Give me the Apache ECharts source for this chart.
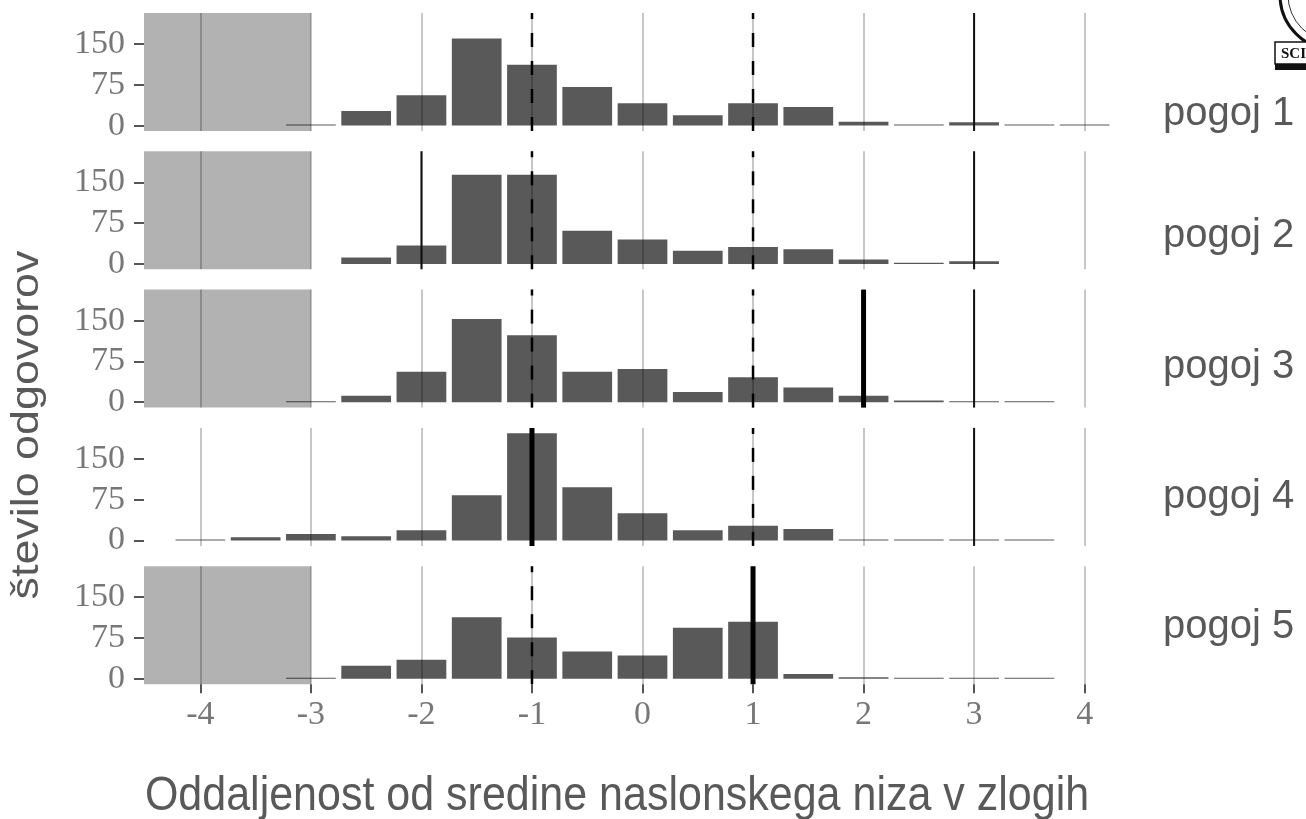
<!DOCTYPE html>
<html><head><meta charset="utf-8">
<script src="https://cdn.jsdelivr.net/npm/echarts@6/dist/echarts.min.js"></script>
<style>html,body{margin:0;padding:0;background:#fff}#c{width:1306px;height:819px}</style>
</head><body><div id="c"></div>
<script>
// ---- data ----
const binCenters = [-4,-3.5,-3,-2.5,-2,-1.5,-1,-0.5,0,0.5,1,1.5,2,2.5,3,3.5,4];
const pogoj1 = [null,null,2,27,56,160,112,71,41,19,41,34,7,2,6,2,2];
const pogoj2 = [null,null,null,12,34,164,164,61,45,24,31,27,8,2,5,null,null];
const pogoj3 = [null,null,2,12,56,153,123,56,61,19,46,27,12,3,2,2,null];
const pogoj4 = [2,6,12,8,19,83,197,98,50,19,27,21,2,2,2,2,null];
const pogoj5 = [null,null,2,24,35,113,76,50,43,94,105,9,3,2,2,2,null];
const panelNames = ['pogoj 1','pogoj 2','pogoj 3','pogoj 4','pogoj 5'];
const shadedPanels = [true,true,true,false,true];
const shadeTo = -3;
const dashedLines = [[-1,1],[-1,1],[-1,1],[1],[-1]];
const thinLines = [[3],[-2,3],[3],[3],[]];
const thickLines = [[],[],[2],[-1],[1]];
const xTicks = [-4,-3,-2,-1,0,1,2,3,4];
const yTicks = [0,75,150];
const xTitle = 'Oddaljenost od sredine naslonskega niza v zlogih';
const yTitle = 'število odgovorov';

// ---- chart ----
const panels = [pogoj1,pogoj2,pogoj3,pogoj4,pogoj5];
const X_MIN=-4.51, X_MAX=4.51, Y_MIN=-9.9, Y_MAX=207;
const BAR_HALF=0.225;
const GRID_TOP=13, PITCH=138.3, GRID_H=118;
const labelY=[114,236,367,497,627];

const grids=[], xAxes=[], yAxes=[], series=[];
panels.forEach((vals,i)=>{
  const last = i===panels.length-1;
  grids.push({left:144, width:997, top:GRID_TOP+i*PITCH, height:GRID_H});
  xAxes.push({type:'value', gridIndex:i, min:X_MIN, max:X_MAX,
    axisLine:{show:false,onZero:false},
    axisTick:{show:last, customValues:xTicks, length:9, lineStyle:{color:'#555',width:2}},
    axisLabel:{show:last, customValues:xTicks, fontFamily:'Liberation Serif', fontSize:34, color:'#777', margin:14},
    splitLine:{show:true, lineStyle:{color:'#b5b5b5', width:1.5}}});
  yAxes.push({type:'value', gridIndex:i, min:Y_MIN, max:Y_MAX,
    axisLine:{show:false,onZero:false},
    axisTick:{show:true, customValues:yTicks, length:10, lineStyle:{color:'#555',width:2}},
    axisLabel:{customValues:yTicks, fontFamily:'Liberation Serif', fontSize:34, color:'#777', margin:19},
    splitLine:{show:false}});
  const data = binCenters.map((x,j)=>[x, vals[j]]).filter(d=>d[1]!=null);
  const s = {type:'custom', name:panelNames[i], xAxisIndex:i, yAxisIndex:i, data, z:2, silent:true,
    renderItem:(params, api)=>{
      const x=api.value(0), y=api.value(1);
      const p1=api.coord([x-BAR_HALF, y]);
      const p2=api.coord([x+BAR_HALF, 0]);
      return {type:'rect', shape:{x:p1[0], y:p1[1], width:p2[0]-p1[0], height:p2[1]-p1[1]},
        style:{fill:'rgba(0,0,0,0.65)'}};
    }};
  if (shadedPanels[i]) {
    s.markArea = {silent:true, itemStyle:{color:'rgba(0,0,0,0.3)'}, data:[[{xAxis:X_MIN},{xAxis:shadeTo}]]};
  }
  series.push(s);
  const addLine=(x, style)=>series.push({type:'line', xAxisIndex:i, yAxisIndex:i, silent:true, z:5,
    symbol:'none', data:[[x,Y_MIN],[x,Y_MAX]], lineStyle:style});
  dashedLines[i].forEach(x=>addLine(x,{color:'#000', width:2.5, type:[14,14]}));
  thinLines[i].forEach(x=>addLine(x,{color:'#111', width:2}));
  thickLines[i].forEach(x=>addLine(x,{color:'#000', width:5}));
});

const graphic = [];
panelNames.forEach((n,i)=>graphic.push({type:'text', x:1163, y:labelY[i],
  style:{text:n, fontFamily:'Liberation Sans', fontSize:40, fill:'#595959', align:'left', verticalAlign:'middle'}}));
graphic.push({type:'text', x:617, y:797, scaleY:1.1,
  style:{text:xTitle, fontFamily:'Liberation Sans', fontSize:43, fill:'#595959', align:'center', verticalAlign:'middle'}});
graphic.push({type:'text', x:28, y:425, rotation:Math.PI/2, scaleX:1.18,
  style:{text:yTitle, fontFamily:'Liberation Sans', fontSize:38, fill:'#595959', align:'center', verticalAlign:'middle'}});
// partial emblem, top-right corner
graphic.push({type:'circle', shape:{cx:1335, cy:-5, r:55}, style:{fill:'#fff', stroke:'#111', lineWidth:3}});
graphic.push({type:'circle', shape:{cx:1335, cy:-5, r:47}, style:{fill:'none', stroke:'#333', lineWidth:1}});
graphic.push({type:'rect', shape:{x:1275, y:63, width:40, height:7}, style:{fill:'#111'}});
graphic.push({type:'rect', shape:{x:1275, y:42, width:40, height:22}, style:{fill:'#fff', stroke:'#111', lineWidth:1.5}});
graphic.push({type:'text', x:1281, y:54, style:{text:'SCI', fontFamily:'Liberation Serif', fontWeight:'bold', fontSize:15, fill:'#111', verticalAlign:'middle'}});

const chart = echarts.init(document.getElementById('c'));
chart.setOption({animation:false, backgroundColor:'#fff', grid:grids, xAxis:xAxes, yAxis:yAxes, series, graphic});
</script></body></html>
